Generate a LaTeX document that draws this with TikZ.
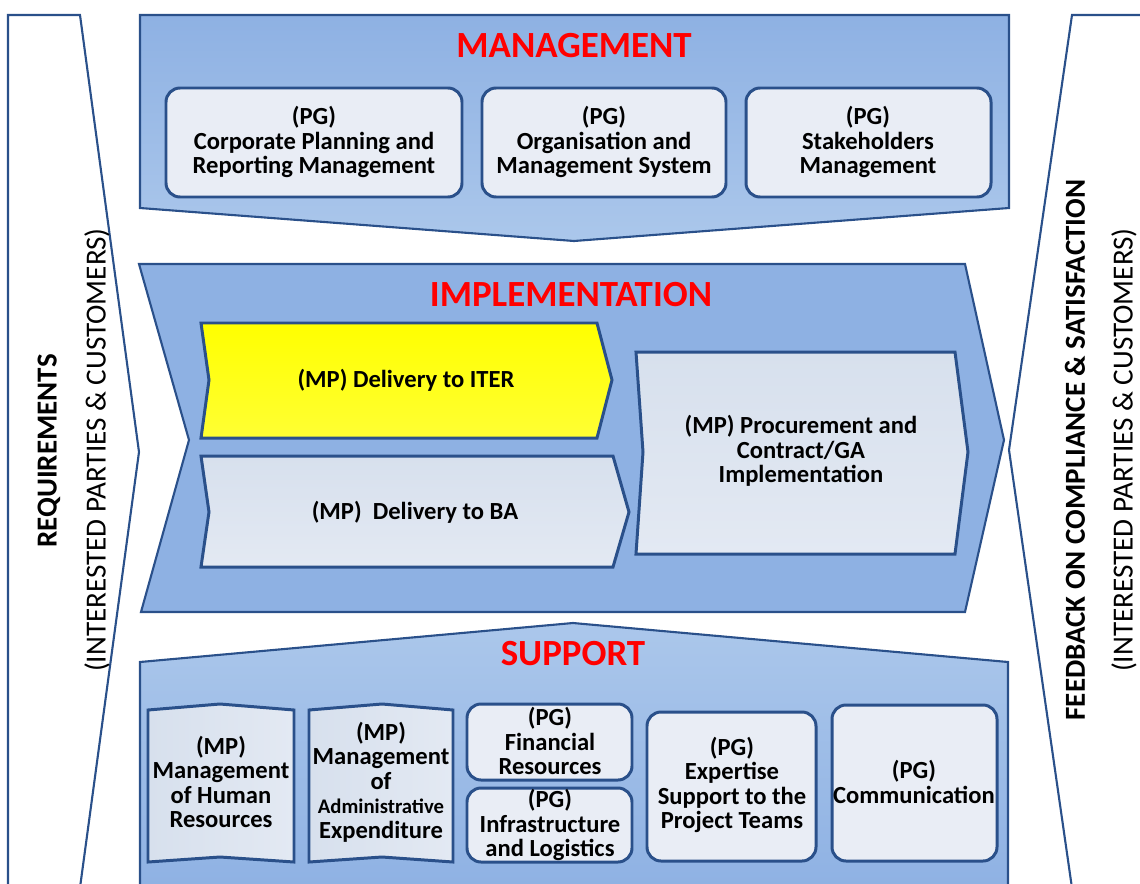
\documentclass[tikz,border=0pt]{standalone}
\usepackage{fontspec}
\setmainfont{Carlito}
\definecolor{dblue}{RGB}{42,80,138}
\definecolor{pblue}{RGB}{142,177,227}
\definecolor{plight}{RGB}{171,199,235}
\definecolor{boxfill}{RGB}{233,237,245}
\definecolor{mpfill}{RGB}{215,224,237}
\definecolor{mplight}{RGB}{227,233,243}
\definecolor{titlered}{RGB}{255,0,0}
\begin{document}
\begin{tikzpicture}[x=0.02cm,y=-0.02cm,
  panel/.style={draw=dblue, line width=1.2pt, line join=miter},
  pgbox/.style={draw=dblue, line width=1.7pt, fill=boxfill, rounded corners=8pt},
  mpbox/.style={draw=dblue, line width=1.7pt, line join=miter, top color=mpfill, bottom color=mplight},
  ttl/.style={text=titlered, font=\bfseries\fontsize{21}{24}\selectfont, inner sep=0pt},
  txt/.style={align=center, font=\bfseries\fontsize{14}{14}\selectfont, inner sep=0pt},
  side/.style={rotate=90, font=\fontsize{16.6}{18}\selectfont, inner sep=0pt},
  sideb/.style={rotate=90, font=\bfseries\fontsize{16.5}{18}\selectfont, inner sep=0pt}]
\clip (0,0) rectangle (1140,883);
\fill[white] (0,0) rectangle (1140,883);

% side panels
\draw[panel, fill=white] (8,895) -- (8,15) -- (80,15) -- (139,452) -- (79,895);
\draw[panel, fill=white] (1150,15) -- (1072,15) -- (1009,450) -- (1073,895);
\node[sideb] (req) at (49,451) {REQUIREMENTS};
\node[side] (reqip) at (97,450) {(INTERESTED PARTIES \& CUSTOMERS)};
\node[sideb] (fb) at (1075,450) {FEEDBACK ON COMPLIANCE \& SATISFACTION};
\node[side] (fbip) at (1124,450) {(INTERESTED PARTIES \& CUSTOMERS)};

% management
\draw[panel, top color=pblue, bottom color=plight] (140,15) -- (1009,15) -- (1009,208) -- (574,241) -- (140,208) -- cycle;
\node[ttl] (mgmt) at (574,46) {MANAGEMENT};
\draw[pgbox] (166,88) rectangle (462,197);
\draw[pgbox] (482,88) rectangle (726,197);
\draw[pgbox] (746,88) rectangle (991,197);
\node[txt] (pg1) at (314,142) {(PG)\\Corporate Planning and\\Reporting Management};
\node[txt] (pg2) at (604,142) {(PG)\\Organisation and\\Management System};
\node[txt] (pg3) at (868,142) {(PG)\\Stakeholders\\Management};

% implementation
\draw[panel, fill=pblue] (139,264) -- (965,264) -- (1004,440) -- (965,612) -- (141,612) -- (189,440) -- cycle;
\node[ttl] (impl) at (571,295) {IMPLEMENTATION};
\draw[draw=dblue, line width=1.7pt, line join=miter, top color=yellow, bottom color=yellow!80!white]
  (201,323) -- (597,323) -- (612,380) -- (597,438) -- (201,438) -- (209,380) -- cycle;
\node[txt] (iter) at (406,380) {(MP) Delivery to ITER};
\draw[mpbox] (201,456) -- (613,456) -- (629,512) -- (613,567) -- (201,567) -- (209,512) -- cycle;
\node[txt] (ba) at (415,512) {(MP)\ \ Delivery to BA};
\draw[mpbox] (636,352) -- (955,352) -- (968,452) -- (955,554) -- (636,554) -- (643,452) -- cycle;
\node[txt] (proc) at (801,451) {(MP) Procurement and\\Contract/GA\\Implementation};

% support
\draw[panel, top color=plight, bottom color=pblue] (140,895) -- (140,662) -- (573,623) -- (1008,662) -- (1008,895);
\node[ttl] (supp) at (573,654) {SUPPORT};
\draw[mpbox, left color=mpfill, right color=mplight] (148,710) -- (220,704) -- (294,710) -- (294,862) -- (220,857) -- (148,862) -- cycle;
\node[txt] (hr) at (221,782) {(MP)\\Management\\of Human\\Resources};
\draw[mpbox, left color=mpfill, right color=mplight] (309,710) -- (382,704) -- (453,710) -- (453,862) -- (382,857) -- (309,862) -- cycle;
\node[txt] (adm) at (381,782) {(MP)\\Management\\of\\{\fontsize{11.8}{14}\selectfont Administrative}\\Expenditure};
\draw[pgbox] (467,704) rectangle (632,780);
\node[txt] (fin) at (550,741) {(PG)\\Financial\\Resources};
\draw[pgbox] (467,788) rectangle (632,862);
\node[txt] (infra) at (550,825) {(PG)\\Infrastructure\\and Logistics};
\draw[pgbox] (647,712) rectangle (816,861);
\node[txt] (exp) at (732,785) {(PG)\\Expertise\\Support to the\\Project Teams};
\draw[pgbox] (832,705) rectangle (997,861);
\node[txt] (comm) at (914,782) {(PG)\\Communication};
\end{tikzpicture}
\end{document}
